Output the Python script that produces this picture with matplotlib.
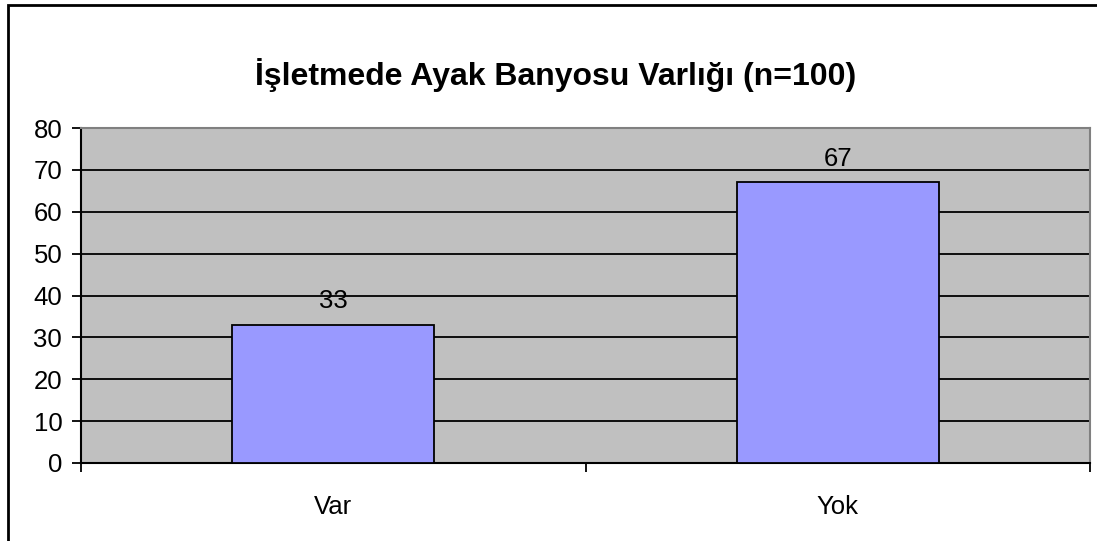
import matplotlib
matplotlib.use('Agg')
from matplotlib import pyplot as plt
from matplotlib.patches import Rectangle

plt.rcParams['font.family'] = ['Liberation Sans', 'DejaVu Sans']

kategoriler = ['Var', 'Yok']
degerler = [33, 67]
y_ticks = [0, 10, 20, 30, 40, 50, 60, 70, 80]
baslik = 'İşletmede Ayak Banyosu Varlığı (n=100)'

fig = plt.figure(figsize=(10.97, 5.41), dpi=100)

# dis cerceve (sag ve alt kenar resmin disinda kaliyor)
fig.patches.append(Rectangle((8 / 1097, -0.05), 1.2, 1 - 5 / 541 + 0.05,
                             transform=fig.transFigure, fill=False,
                             edgecolor='black', linewidth=2))

ax = fig.add_axes([81 / 1097, 78 / 541, 1009 / 1097, 335 / 541])
ax.set_facecolor('#C0C0C0')

x = range(len(kategoriler))
ax.bar(x, degerler, width=0.4, color='#9999FF', edgecolor='black',
       linewidth=1.3, zorder=3)

for i, v in zip(x, degerler):
    ax.annotate(str(v), (i, v), xytext=(0, 8.5), textcoords='offset points',
                ha='center', va='bottom', fontsize=18.5)

ax.set_xlim(-0.5, len(kategoriler) - 0.5)
ax.set_ylim(0, 80)
ax.set_yticks(y_ticks)
ax.tick_params(axis='y', labelsize=18.5, direction='out', length=6.5,
               width=1.3, pad=7)
ax.yaxis.grid(True, color='black', linewidth=1.3, zorder=1)
ax.set_axisbelow(True)

# kategori sinirlarinda tik, etiketler ortada
ax.set_xticks([-0.5, 0.5, 1.5])
ax.set_xticklabels([])
ax.set_xticks(list(x), minor=True)
ax.set_xticklabels(kategoriler, minor=True)
ax.tick_params(axis='x', which='major', direction='out', length=6.5, width=1.3)
ax.tick_params(axis='x', which='minor', length=0, labelsize=18.5, pad=23)

for s in ['left', 'bottom']:
    ax.spines[s].set_color('black')
    ax.spines[s].set_linewidth(1.5)
for s in ['top', 'right']:
    ax.spines[s].set_color('#808080')
    ax.spines[s].set_linewidth(1.5)

fig.text(556 / 1097, 1 - 75 / 541, baslik, ha='center', va='center',
         fontsize=23, fontweight='bold')

fig.savefig('out.png', dpi=100)
